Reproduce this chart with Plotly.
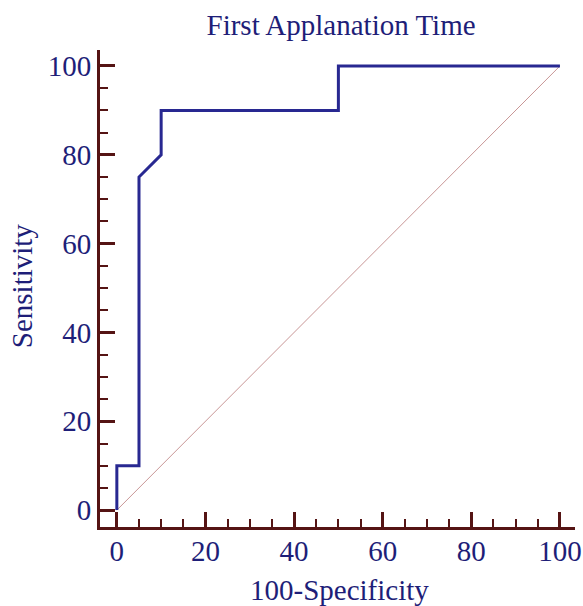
import plotly.graph_objects as go

# ROC curve data
fpr = [0, 0, 5, 5, 10, 10, 50, 50, 100]   # 100-Specificity
tpr = [0, 10, 10, 75, 80, 90, 90, 100, 100]  # Sensitivity
diag_x = [0, 100]
diag_y = [0, 100]
tick_vals = [0, 20, 40, 60, 80, 100]

navy = "rgb(30,30,120)"
maroon = "rgb(85,20,20)"
serif = "Liberation Serif"

fig = go.Figure()
fig.add_trace(go.Scatter(x=diag_x, y=diag_y, mode="lines",
                         line=dict(color="rgb(200,150,150)", width=1), hoverinfo="skip"))
fig.add_trace(go.Scatter(x=fpr, y=tpr, mode="lines",
                         line=dict(color="rgb(40,40,145)", width=3)))

axis_common = dict(
    showgrid=False, zeroline=False, showline=True, linecolor=maroon, linewidth=3,
    ticks="inside", ticklen=15, tickwidth=3, tickcolor=maroon,
    tickvals=tick_vals, ticktext=[str(v) for v in tick_vals],
    tickfont=dict(family=serif, size=29, color=navy),
    minor=dict(ticks="inside", ticklen=8, tickwidth=2, tickcolor=maroon, dtick=5, showgrid=False),
    mirror=False, automargin=False,
)

fig.update_layout(
    width=583, height=606,
    margin=dict(l=100, r=8, t=50, b=79),
    plot_bgcolor="white", paper_bgcolor="white",
    showlegend=False,
    title=dict(text="First Applanation Time", x=0.585, xanchor="center", y=0.959, yanchor="middle",
               font=dict(family=serif, size=29, color=navy)),
    xaxis=dict(range=[-3.8, 103.4], ticklabelstandoff=-4, **axis_common),
    yaxis=dict(range=[-3.8, 103.6], **axis_common),
    annotations=[
        dict(text="100-Specificity", xref="paper", yref="paper", x=0.505, y=-0.133,
             xanchor="center", yanchor="middle", showarrow=False,
             font=dict(family=serif, size=29, color=navy)),
        dict(text="Sensitivity", xref="paper", yref="paper", x=-0.164, y=0.505,
             xanchor="center", yanchor="middle", showarrow=False, textangle=-90,
             font=dict(family=serif, size=29, color=navy)),
    ],
)

fig.write_html("out.html",
               config={"displayModeBar": False},
               post_script="document.body.style.margin='0';document.body.style.overflow='hidden';")
